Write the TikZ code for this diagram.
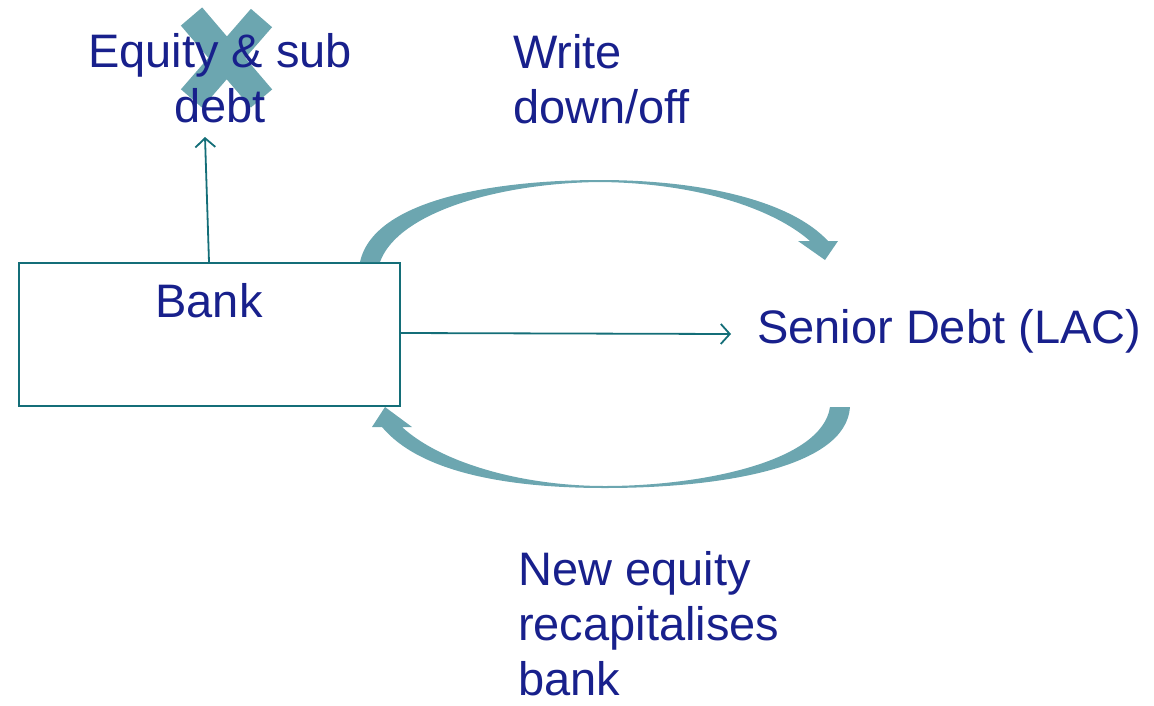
\documentclass[tikz,border=0pt]{standalone}
\usepackage{fontspec}
\setmainfont{Liberation Sans}
\usetikzlibrary{arrows.meta}
\definecolor{navy}{RGB}{24,32,140}
\definecolor{tealline}{RGB}{20,110,120}
\definecolor{arrowfill}{RGB}{108,166,176}
\tikzset{
  lbl/.style={text=navy, inner sep=0pt, font=\fontsize{47}{55}\selectfont},
  conn/.style={draw=tealline, line width=1.8pt, -{Straight Barb[length=9pt,width=20pt,line width=1.8pt]}},
  bigarrow/.style={fill=arrowfill, draw=none},
  cross/.style={draw=arrowfill, line width=28pt, line cap=butt}
}
\begin{document}
\begin{tikzpicture}[x=1pt,y=-1pt]
\useasboundingbox (0,0) rectangle (1154,705);
% cross
\draw[cross] (191.5,16.5) -- (261.5,98.5);
\draw[cross] (261.5,18) -- (191.5,98.5);
% box
\node[draw=tealline, line width=1.8pt, minimum width=381pt, minimum height=143pt, inner sep=0pt, anchor=north west] (bank) at (18,262) {};
\node[lbl, anchor=base] (banklbl) at (209,317) {Bank};
% texts (base anchor = baseline of last line)
\node[lbl, anchor=base, align=center] (equity) at (220,122) {Equity \& sub\\debt};
\node[lbl, anchor=base west, align=left] (write) at (513,123) {Write\\down/off};
\node[lbl, anchor=base west] (senior) at (757,343) {Senior Debt (LAC)};
\node[lbl, anchor=base west, align=left] (neweq) at (518,695) {New equity\\recapitalises\\bank};
\coordinate (eqbot) at (205,137);
\coordinate (srleft) at (731,334);
% straight connectors
\draw[conn] (bank.north -| 209,0) -- (eqbot);
\draw[conn] (bank.east |- 0,333) -- (srleft);
% top curved arrow
\fill[bigarrow] (360,262) -- (380,262)
  .. controls (398,212) and (500,183) .. (600,182)
  .. controls (700,183) and (775,210) .. (810,241)
  -- (798,241) -- (825,260) -- (838,241) -- (828,241)
  .. controls (790,200) and (700,180) .. (600,180)
  .. controls (500,180) and (374,198) .. (360,262) -- cycle;
% bottom curved arrow
\fill[bigarrow] (830,407) -- (850,407)
  .. controls (846,468) and (720,488) .. (605,488)
  .. controls (500,488) and (418,470) .. (382,427)
  -- (372,427) -- (385,407) -- (412,427) -- (402,427)
  .. controls (440,462) and (520,486) .. (605,486)
  .. controls (700,486) and (822,462) .. (830,407) -- cycle;
\end{tikzpicture}
\end{document}
